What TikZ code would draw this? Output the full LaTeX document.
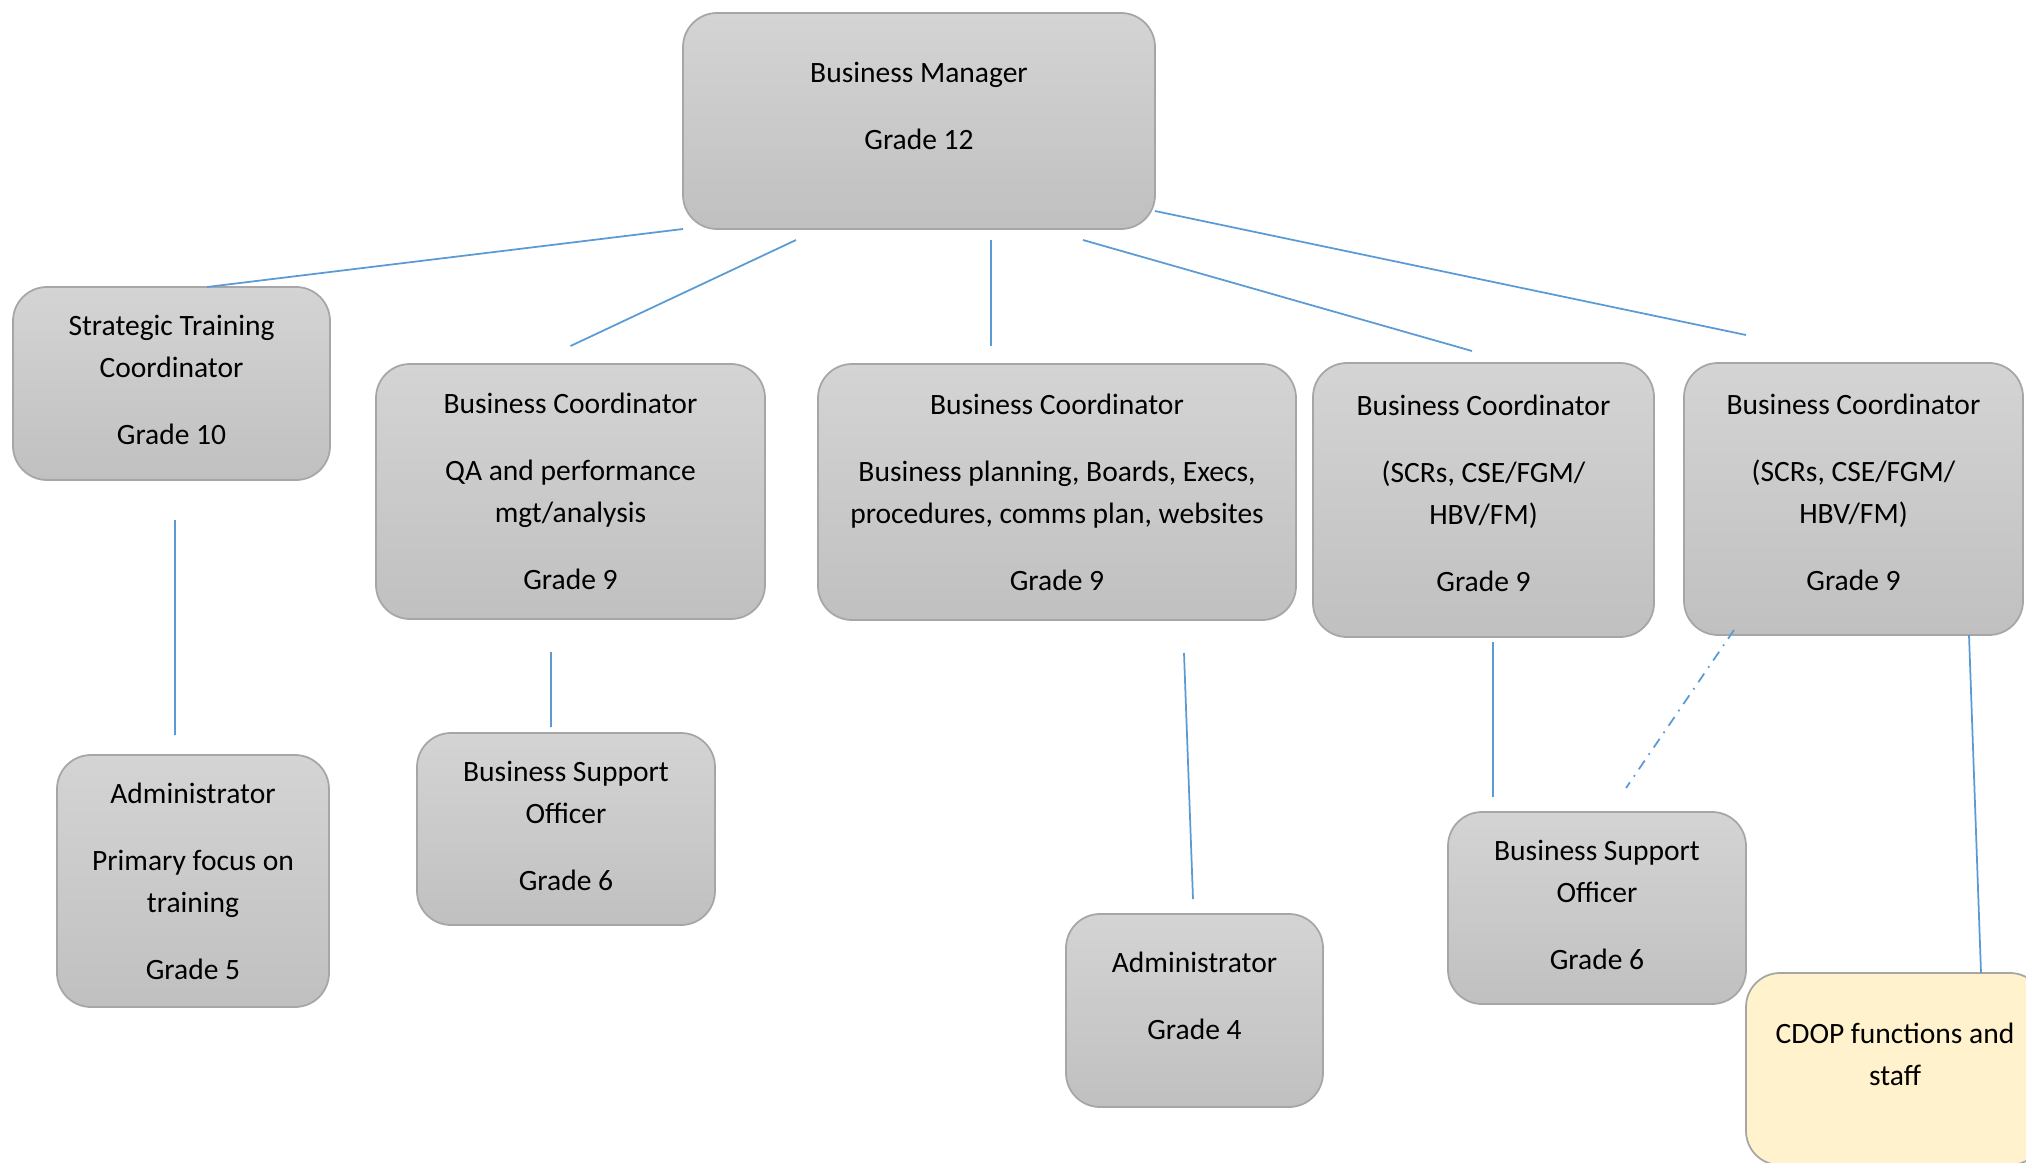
\documentclass[tikz,border=0pt]{standalone}
\usepackage{fontspec}
\setmainfont{Carlito}

\definecolor{boxtop}{HTML}{D4D4D4}
\definecolor{boxbot}{HTML}{C0C0C0}
\definecolor{boxline}{HTML}{A6A6A6}
\definecolor{linkblue}{HTML}{5B9BD5}
\definecolor{cdopfill}{HTML}{FFF2CC}

\tikzset{
  post/.style={draw=boxline,line width=0.5pt,rounded corners=0.34cm,top color=boxtop,bottom color=boxbot,
    align=center,inner sep=0pt,outer sep=0pt,font=\fontsize{8.4}{11.95}\selectfont},
  link/.style={draw=linkblue,line width=0.5pt},
  duty/.style={draw=boxline,line width=0.5pt,rounded corners=0.34cm,fill=cdopfill,
    align=center,inner sep=0pt,outer sep=0pt,font=\fontsize{8.4}{11.95}\selectfont}
}

\newcommand{\pgap}{\\[0.25cm]}

\begin{document}
\begin{tikzpicture}

\useasboundingbox (0,0) rectangle (20.26,11.62);
\clip (0,0) rectangle (20.26,11.62);

% top
\node[post,minimum width=4.72cm,minimum height=2.16cm,text depth=0.3cm] (bm) at (9.19,10.41) {Business Manager\pgap Grade 12};

% second row
\node[post,minimum width=3.17cm,minimum height=1.93cm,text depth=0.07cm] (stc) at (1.715,7.785) {Strategic Training\\Coordinator\pgap Grade 10};
\node[post,minimum width=3.89cm,minimum height=2.55cm] (bcqa) at (5.705,6.705) {Business Coordinator\pgap QA and performance\\mgt/analysis\pgap Grade 9};
\node[post,minimum width=4.78cm,minimum height=2.56cm] (bcplan) at (10.57,6.70) {Business Coordinator\pgap Business planning, Boards, Execs,\\procedures, comms plan, websites\pgap Grade 9};
\node[post,minimum width=3.41cm,minimum height=2.74cm,text depth=0.13cm] (bcscra) at (14.835,6.62) {Business Coordinator\pgap (SCRs, CSE/FGM/\\HBV/FM)\pgap Grade 9};
\node[post,minimum width=3.39cm,minimum height=2.72cm,text depth=0.13cm] (bcscrb) at (18.535,6.63) {Business Coordinator\pgap (SCRs, CSE/FGM/\\HBV/FM)\pgap Grade 9};

% third row
\node[post,minimum width=2.72cm,minimum height=2.52cm] (admtrain) at (1.93,2.81) {Administrator\pgap Primary focus on\\training\pgap Grade 5};
\node[post,minimum width=2.98cm,minimum height=1.92cm,text depth=0.07cm] (bsoa) at (5.66,3.33) {Business Support\\Officer\pgap Grade 6};
\node[post,minimum width=2.57cm,minimum height=1.93cm,text depth=0.3cm] (admplan) at (11.945,1.515) {Administrator\pgap Grade 4};
\node[post,minimum width=2.98cm,minimum height=1.92cm,text depth=0.07cm] (bsob) at (15.97,2.54) {Business Support\\Officer\pgap Grade 6};
\node[duty,minimum width=2.98cm,minimum height=1.92cm,text depth=0.3cm] (cdop) at (18.95,0.93) {CDOP functions and\\staff};

% lines from the manager
\draw[link] (bm.south west) -- ([xshift=0.355cm]stc.north);
\draw[link] ([xshift=-1.23cm,yshift=-0.11cm]bm.south) -- ([yshift=0.18cm]bcqa.north);
\draw[link] ([xshift=0.72cm,yshift=-0.11cm]bm.south) -- ([xshift=-0.66cm,yshift=0.18cm]bcplan.north);
\draw[link] ([xshift=1.64cm,yshift=-0.11cm]bm.south) -- ([xshift=-0.115cm,yshift=0.12cm]bcscra.north);
\draw[link] ([yshift=-0.9cm]bm.east) -- ([xshift=-1.075cm,yshift=0.28cm]bcscrb.north);

% lines to the third row
\draw[link] ([xshift=0.035cm,yshift=-0.4cm]stc.south) -- ([xshift=-0.18cm,yshift=0.2cm]admtrain.north);
\draw[link] ([xshift=-0.195cm,yshift=-0.33cm]bcqa.south) -- ([xshift=-0.15cm,yshift=0.06cm]bsoa.north);
\draw[link] ([xshift=1.27cm,yshift=-0.33cm]bcplan.south) -- ([xshift=-0.015cm,yshift=0.15cm]admplan.north);
\draw[link] ([xshift=0.095cm,yshift=-0.05cm]bcscra.south) -- ([xshift=-1.04cm,yshift=0.15cm]bsob.north);
\draw[link,dash dot] ([xshift=-1.195cm,yshift=0.05cm]bcscrb.south) -- ([xshift=0.29cm,yshift=0.24cm]bsob.north);
\draw[link] ([xshift=1.155cm]bcscrb.south) -- ([xshift=0.86cm]cdop.north);

\end{tikzpicture}
\end{document}
